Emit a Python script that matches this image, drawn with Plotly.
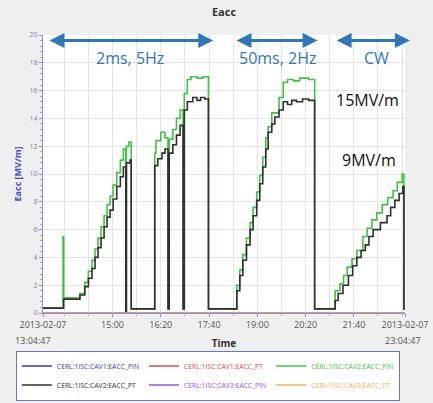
import plotly.graph_objects as go

D = "2013-02-07 "
# CAV2 PT (black) step data
pt2_time = ["13:04:47", "13:39", "14:06", "14:14", "14:20", "14:26", "14:31", "14:36", "14:41", "14:46",
            "14:51", "14:56", "15:01", "15:07", "15:13", "15:18", "15:22", "15:23", "15:29", "15:31",
            "16:10", "16:15", "16:22", "16:27", "16:32", "16:34", "16:40", "16:46", "16:52", "16:57",
            "16:59", "17:04", "17:13", "17:20", "17:26", "17:33", "17:39",
            "18:26", "18:31", "18:36", "18:42", "18:48", "18:53", "18:59", "19:04", "19:09", "19:14",
            "19:18", "19:24", "19:29", "19:36", "19:43", "19:50", "19:57", "20:05", "20:15", "20:25",
            "20:35", "21:09", "21:14", "21:22", "21:31", "21:38", "21:45", "21:52", "21:59", "22:05",
            "22:12", "22:24", "22:35", "22:41", "22:48", "22:55", "23:01", "23:03", "23:04:47"]
pt2_val = [0.35, 1.0, 1.3, 1.9, 2.5, 3.2, 4.0, 4.7, 5.4, 6.2,
           6.9, 7.4, 8.2, 9.1, 9.8, 10.5, 0.0, 10.8, 11.0, 0.3,
           10.6, 11.1, 11.5, 11.8, 0.3, 11.5, 12.1, 12.8, 13.5, 0.3,
           14.6, 15.2, 15.5, 15.3, 15.5, 15.4, 0.3,
           1.6, 2.7, 3.8, 4.9, 6.0, 7.0, 8.1, 9.3, 10.5, 11.8,
           13.0, 13.6, 14.1, 14.6, 15.2, 15.0, 15.3, 15.2, 15.4, 15.3,
           0.3, 0.9, 1.4, 2.0, 2.7, 3.4, 4.0, 4.5, 4.9, 5.5,
           6.0, 6.5, 7.0, 7.6, 8.1, 8.6, 9.1, 0.3, 0.3]

# CAV2 PIN (green) step data
pin2_time = ["13:04:47", "13:38", "13:39", "14:06", "14:14", "14:20", "14:26", "14:31", "14:36", "14:41",
             "14:46", "14:51", "14:56", "15:01", "15:07", "15:13", "15:18", "15:22", "15:23", "15:27",
             "15:31", "16:10", "16:12", "16:20", "16:27", "16:32", "16:34", "16:40", "16:46", "16:52",
             "16:57", "16:59", "17:04", "17:10", "17:20", "17:30", "17:39",
             "18:26", "18:31", "18:36", "18:42", "18:48", "18:53", "18:59", "19:04", "19:09", "19:14",
             "19:18", "19:24", "19:36", "19:43", "19:50", "20:00", "20:10", "20:25",
             "20:35", "21:09", "21:17", "21:23", "21:29", "21:37", "21:45", "21:55", "22:02", "22:10",
             "22:18", "22:27", "22:36", "22:45", "22:52", "23:00", "23:03", "23:04:47"]
pin2_val = [0.35, 5.5, 1.1, 1.4, 2.2, 3.0, 3.8, 4.6, 5.4, 6.2,
            7.0, 7.8, 8.4, 9.2, 10.1, 11.0, 11.8, 0.0, 12.0, 12.3,
            0.3, 11.5, 12.4, 13.0, 12.6, 0.3, 12.5, 13.2, 14.0, 14.6,
            0.3, 15.8, 16.8, 17.0, 16.9, 17.0, 0.3,
            2.0, 3.1, 4.2, 5.4, 6.5, 7.6, 8.7, 9.9, 11.2, 12.6,
            13.4, 14.4, 15.5, 16.6, 16.8, 16.7, 16.9, 16.8,
            0.3, 1.6, 2.1, 2.7, 3.3, 3.9, 4.5, 5.5, 6.1, 6.7,
            7.2, 7.8, 8.3, 8.8, 9.4, 10.0, 0.3, 0.3]

zero_time = ["13:04:47", "23:04:47"]
zero_val = [0.0, 0.0]

series_names = ["CERL:1ISC:CAV1:EACC_PIN", "CERL:1ISC:CAV1:EACC_PT", "CERL:1ISC:CAV2:EACC_PIN",
                "CERL:1ISC:CAV2:EACC_PT", "CERL:1ISC:CAV3:EACC_PIN", "CERL:1ISC:CAV3:EACC_PT"]
series_colors = ["#3a3aa8", "#e04848", "#44c044", "#303030", "#9a50e0", "#f0b050"]
series_data = [(zero_time, zero_val), (zero_time, zero_val), (pin2_time, pin2_val),
               (pt2_time, pt2_val), (zero_time, zero_val), (zero_time, zero_val)]

tick_times = ["13:04:47", "15:00", "16:20", "17:40", "19:00", "20:20", "21:40", "23:04:47"]
tick_text = ["2013-02-07", "15:00", "16:20", "17:40", "19:00", "20:20", "21:40", "2013-02-07"]

def ts(t):
    if len(t) == 5:
        t = t + ":00"
    return D + t

fig = go.Figure()
for name, col, (tt, vv) in zip(series_names, series_colors, series_data):
    fig.add_trace(go.Scatter(
        x=[ts(t) for t in tt], y=vv, mode="lines", line=dict(color=col, width=1.6, shape="hv"),
        name="<span style='color:%s'>%s</span>" % (col, name)))

arrow_col = "#2f78b8"
arrows = [("13:13", "17:47"), ("18:23", "20:40"), ("21:09", "23:13")]
for a, b in arrows:
    fig.add_annotation(x=ts(b), y=19.6, ax=ts(a), ay=19.6, xref="x", yref="y", axref="x", ayref="y",
                       showarrow=True, arrowside="end+start", arrowhead=2, arrowsize=1.0,
                       arrowwidth=3, arrowcolor=arrow_col, text="")

labels = [("15:29", 18.35, "2ms, 5Hz", arrow_col), ("19:33", 18.35, "50ms, 2Hz", arrow_col),
          ("22:17", 18.35, "CW", arrow_col), ("22:02", 15.3, "15MV/m", "#111111"),
          ("22:05", 11.0, "9MV/m", "#111111")]
for t, y, txt, c in labels:
    fig.add_annotation(x=ts(t), y=y, text=txt, showarrow=False,
                       font=dict(size=16, color=c, family="Open Sans"))

# second line of end tick labels
fig.add_annotation(x=ts("13:04:47"), y=0, yref="y", text="13:04:47", showarrow=False,
                   xanchor="left", yanchor="top", xshift=-30, yshift=-19,
                   font=dict(size=9, color="#555555"))
fig.add_annotation(x=ts("23:04:47"), y=0, yref="y", text="23:04:47", showarrow=False,
                   xanchor="right", yanchor="top", xshift=18, yshift=-19,
                   font=dict(size=9, color="#555555"))

fig.update_layout(
    width=433, height=403,
    margin=dict(l=43, r=28, t=35, b=90, autoexpand=False),
    paper_bgcolor="#efefef", plot_bgcolor="white",
    font=dict(family="Open Sans", size=9, color="#444"),
    title=dict(text="<b>Eacc</b>", x=0.5, xref="paper", y=0.97, yref="container", yanchor="middle",
               font=dict(size=11, color="#333")),
    showlegend=True,
    legend=dict(orientation="h", x=-0.075, xanchor="left", y=-0.135, yanchor="top",
                bgcolor="white", bordercolor="#7070d0", borderwidth=1,
                font=dict(size=6.8), itemwidth=30, tracegroupgap=0),
)
fig.update_xaxes(
    type="date", range=[ts("13:04:47"), ts("23:04:47")],
    tickvals=[ts(t) for t in tick_times], ticktext=tick_text,
    tickfont=dict(size=9, color="#555"), showgrid=True, gridcolor="#e4e4e4",
    showline=True, linecolor="#8a8ae0", linewidth=1, ticks="outside", ticklen=3, tickcolor="#8a8ae0",
    minor=dict(tick0=ts("13:40"), dtick=40 * 60 * 1000, showgrid=True, gridcolor="#e4e4e4",
               ticks="outside", ticklen=2, tickcolor="#b0b0e8"),
    title=dict(text="<b>Time</b>", font=dict(size=10, color="#333"), standoff=10),
    zeroline=False,
)
fig.update_yaxes(
    range=[0, 20], dtick=2, tick0=0, tickfont=dict(size=7, color="#8080c0"),
    showgrid=True, gridcolor="#e4e4e4", showline=True, linecolor="#8a8ae0", linewidth=1,
    ticks="outside", ticklen=3, tickcolor="#8a8ae0",
    minor=dict(dtick=0.4, ticks="outside", ticklen=2, tickcolor="#a0a0e0", showgrid=False),
    title=dict(text="<b>Eacc [MV/m]</b>", font=dict(size=9, color="#4a4ac8"), standoff=6),
    zeroline=False,
)
fig.write_html("out.html")
